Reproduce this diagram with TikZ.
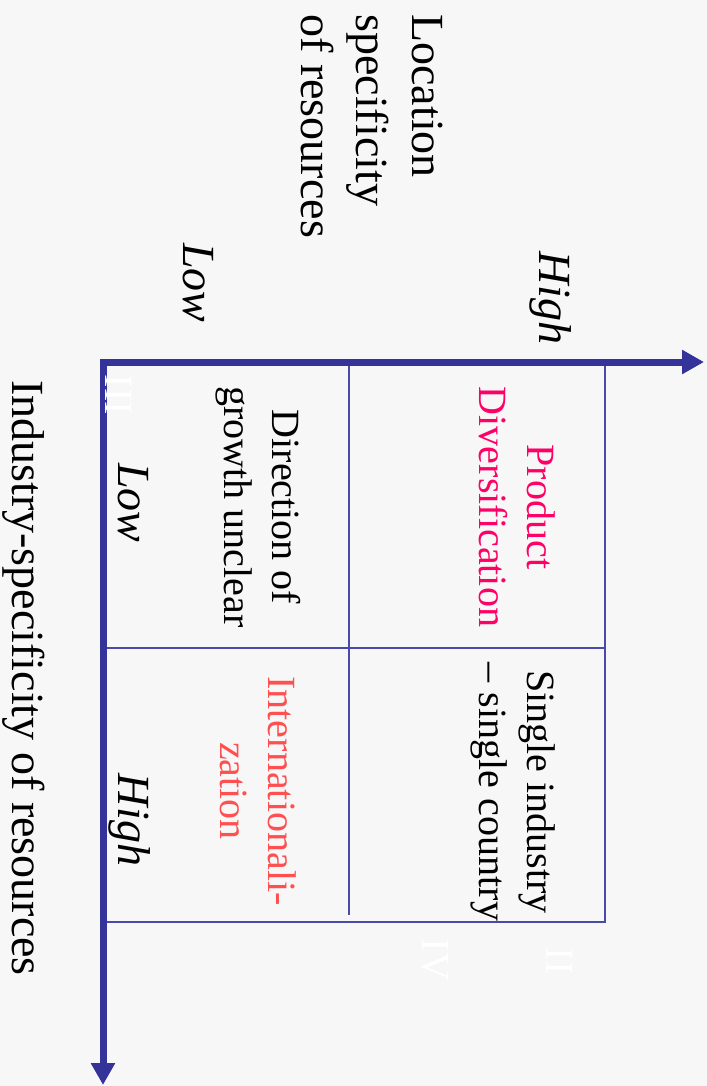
\documentclass[tikz,border=0pt]{standalone}
\usepackage{fontspec}
\setmainfont{Liberation Serif}
\usetikzlibrary{arrows.meta}
\definecolor{axisblue}{HTML}{333399}
\definecolor{gridblue}{HTML}{4A4AAA}
\definecolor{prodpink}{HTML}{FF0066}
\definecolor{intlred}{HTML}{FF4F4F}
\definecolor{slidebg}{HTML}{F7F7F7}
\begin{document}
\begin{tikzpicture}[x=0.02cm,y=-0.02cm,
    axisline/.style={axisblue,line width=0.14cm,line join=miter,
      {Triangle[length=0.44cm,width=0.46cm]}-{Triangle[length=0.44cm,width=0.46cm]}},
    cellline/.style={gridblue,line width=0.03cm},
    axislabel/.style={rotate=-90,inner sep=0pt,font=\fontsize{26.2}{31.4}\selectfont},
    celltext/.style={rotate=-90,inner sep=0pt,align=center,font=\fontsize{22.8}{27.4}\selectfont},
    quadnum/.style={rotate=-90,inner sep=0pt,white,font=\fontsize{22.8}{27.4}\selectfont}]
  \fill[slidebg] (0,0) rectangle (707,1086);
  \useasboundingbox (0,0) rectangle (707,1086);
  % corners of the matrix
  \coordinate (O) at (103,362);
  \coordinate (X) at (704,362);
  \coordinate (Y) at (103,1085);
  \coordinate (TL) at (103,365);
  \coordinate (BR) at (605,922);
  \coordinate (MT) at (349,365);
  \coordinate (MB) at (349,915);
  \coordinate (ML) at (103,648);
  \coordinate (MR) at (605,648);
  \draw[cellline] (TL) rectangle (BR);
  \draw[cellline] (MT) -- (MB);
  \draw[cellline] (ML) -- (MR);
  \draw[axisline] (X) -- (O) -- (Y);
  % axis labels
  \node[axislabel,anchor=west,align=left] (loc) at (372,14)
    {Location\\specificity\\of resources};
  \node[axislabel] (lochigh) at (551,298) {\itshape High};
  \node[axislabel] (loclow) at (198,283) {\itshape Low};
  \node[axislabel] (ind) at (24,678) {Industry-specificity of resources};
  \node[axislabel] (indlow) at (133,503) {\itshape Low};
  \node[axislabel] (indhigh) at (130,820) {\itshape High};
  % quadrants
  \node[celltext,text=prodpink] (prod) at (517,507) {Product\\Diversification};
  \node[celltext] (dir) at (258,507) {Direction of\\growth unclear};
  \node[celltext] (single) at (513,792) {Single industry\\-- single country};
  \node[celltext,text=intlred] (intl) at (258,791) {Internationali-\\zation};
  \node[quadnum] (q3) at (119,395) {III};
  \node[quadnum] (q4) at (435,960) {IV};
  \node[quadnum] (q2) at (560,961) {II};
\end{tikzpicture}
\end{document}
